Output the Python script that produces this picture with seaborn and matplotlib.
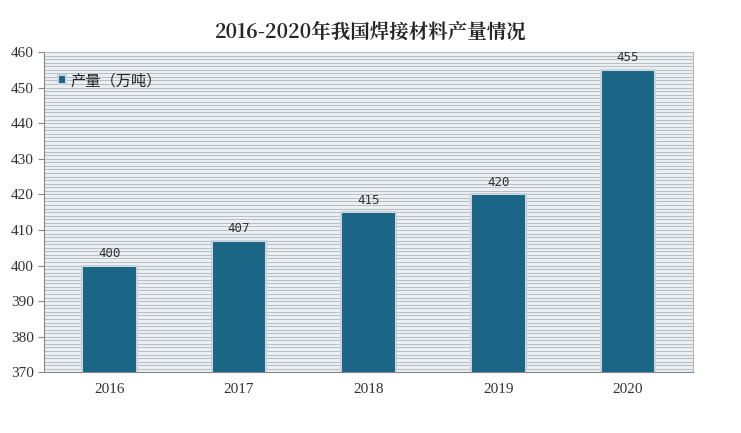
import matplotlib
matplotlib.use('Agg')
from matplotlib import pyplot as plt
from matplotlib.ticker import MultipleLocator
import pandas as pd
import seaborn as sns

years = ['2016', '2017', '2018', '2019', '2020']
output = [400, 407, 415, 420, 455]
series_name = '产量（万吨）'

sns.set_style('white')
plt.rcParams['font.family'] = ['Noto Sans CJK SC', 'DejaVu Sans']

df = pd.DataFrame({'year': years, 'value': output})

fig = plt.figure(figsize=(7.41, 4.33), dpi=100)
ax = fig.add_axes([0.06, 0.14, 0.875, 0.74])
ax.set_facecolor('#edf1f4')

sns.barplot(data=df, x='year', y='value', color='#1b6586', saturation=1, width=0.42, ax=ax,
            edgecolor='#c8d4dc', linewidth=1.5, label=series_name, zorder=3)

ax.set_ylim(370, 460)
ax.yaxis.set_major_locator(MultipleLocator(10))
ax.yaxis.set_minor_locator(MultipleLocator(1))
ax.grid(which='both', axis='y', color='#b8c0c8', linewidth=0.8, zorder=0)
ax.set_axisbelow(True)
ax.tick_params(axis='y', which='major', length=4, color='#888888', labelsize=11, colors='#333333', direction='out', left=True)
ax.tick_params(axis='y', which='minor', length=0)
ax.tick_params(axis='x', length=0, labelsize=11, colors='#333333', pad=8)
for lab in ax.get_xticklabels() + ax.get_yticklabels():
    lab.set_family(['Liberation Serif', 'DejaVu Serif'])
ax.set_xlabel('')
ax.set_ylabel('')
for s in ['top', 'right']:
    ax.spines[s].set_color('#b0b8c0')
for s in ['left', 'bottom']:
    ax.spines[s].set_color('#888888')

for i, v in enumerate(output):
    ax.text(i, v + 1.5, str(v), ha='center', va='bottom', fontsize=9,
            color='#333333', family=['DejaVu Sans Mono', 'DejaVu Sans'])

leg = ax.legend(loc='upper left', frameon=False, fontsize=11, handlelength=0.5,
                handleheight=0.5, handletextpad=0.3, bbox_to_anchor=(0.0, 0.98))

fig.text(0.5, 0.915, '2016-2020年我国焊接材料产量情况', ha='center', fontsize=14,
         fontweight='bold', family=['Noto Serif CJK SC', 'Noto Sans CJK SC', 'DejaVu Serif'])

fig.savefig('out.png', dpi=100)
